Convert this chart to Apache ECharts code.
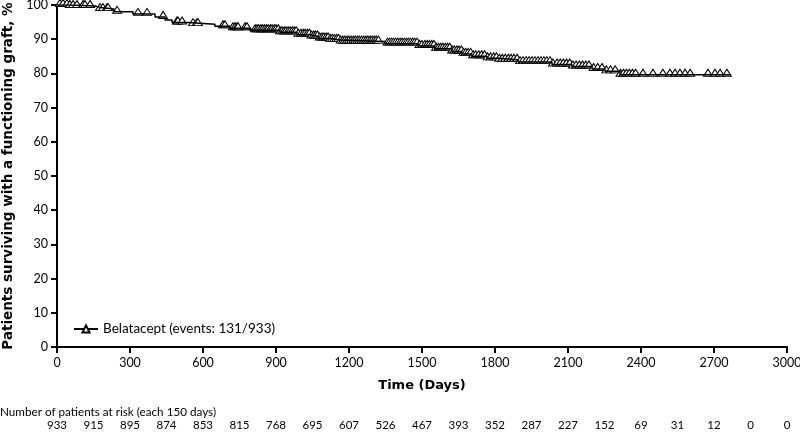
<!DOCTYPE html>
<html><head><meta charset="utf-8">
<script src="https://cdn.jsdelivr.net/npm/echarts@6/dist/echarts.min.js"></script>
<style>html,body{margin:0;padding:0;background:#fff}#c{width:800px;height:432px}</style>
</head><body><div id="c"></div>
<script>
// Kaplan-Meier step points: day at which survival changes, survival (%) from that day
const stepDays = [0, 53, 156, 177, 234, 312, 403, 444, 473, 538, 649, 711, 793, 916, 986, 1040, 1073, 1122, 1163, 1348, 1484, 1553, 1623, 1664, 1705, 1767, 1808, 1895, 2034, 2116, 2199, 2252, 2314, 2766];
const stepSurv = [100, 99.7, 99.3, 98.8, 98.0, 97.4, 96.5, 95.6, 94.9, 94.4, 93.8, 93.2, 92.6, 92.0, 91.3, 90.8, 90.2, 89.8, 89.3, 88.7, 88.0, 87.2, 86.4, 85.7, 85.0, 84.4, 84.0, 83.3, 82.6, 82.0, 81.3, 80.6, 79.6, 79.6];
// censored observation days (markers)
const censorDays = [12, 25, 41, 53, 66, 82, 107, 115, 136, 177, 189, 206, 210, 247, 333, 370, 436, 493, 497, 514, 559, 575, 579, 682, 690, 723, 732, 740, 744, 773, 781,
  814, 822, 829, 838, 845, 853, 861, 868, 877, 884, 893, 900, 909, 917, 925, 934, 941, 950, 958, 967, 975, 983, 992,
  1003, 1012, 1020, 1029, 1037, 1046, 1055, 1063, 1071, 1080, 1089, 1097, 1106, 1114, 1123, 1131, 1140, 1149, 1157, 1166, 1175, 1183, 1192, 1200, 1209, 1218, 1226, 1235, 1243, 1252, 1261, 1270, 1278, 1287, 1295, 1304, 1312, 1321, 1358, 1366, 1375, 1383, 1392, 1401, 1410, 1418, 1427, 1436, 1444, 1453, 1462, 1470, 1480, 1490, 1500,
  1512, 1521, 1530, 1540, 1549, 1558, 1568, 1577, 1586, 1596, 1605, 1614, 1624, 1633, 1643, 1652, 1662, 1671, 1680, 1690, 1700, 1710, 1720, 1733, 1745, 1757, 1770, 1782, 1795, 1806, 1818, 1830, 1842, 1855, 1866, 1878, 1891, 1903, 1915, 1928, 1940, 1952, 1964, 1977, 1989, 2001, 2013, 2026, 2038,
  2055, 2068, 2081, 2094, 2107, 2120, 2133, 2147, 2160, 2173, 2186, 2205, 2222, 2240, 2258, 2275, 2294, 2316, 2328, 2340, 2352, 2365, 2378, 2408, 2449, 2490, 2519, 2540, 2560, 2581, 2602, 2675, 2704, 2725, 2753];
// number at risk every 150 days
const riskDays = [0, 150, 300, 450, 600, 750, 900, 1050, 1200, 1350, 1500, 1650, 1800, 1950, 2100, 2250, 2400, 2550, 2700, 2850, 3000];
const riskCounts = [933, 915, 895, 874, 853, 815, 768, 695, 607, 526, 467, 393, 352, 287, 227, 152, 69, 31, 12, 0, 0];
const xTicks = [0, 300, 600, 900, 1200, 1500, 1800, 2100, 2400, 2700, 3000];
const yTicks = [0, 10, 20, 30, 40, 50, 60, 70, 80, 90, 100];

const FONT = 'Lato';
const BOLD = 'DejaVu Sans';
function survAt(d) {
  let s = stepSurv[0];
  for (let i = 0; i < stepDays.length; i++) { if (stepDays[i] <= d) s = stepSurv[i]; }
  return s;
}
const lineData = stepDays.map((d, i) => [d, stepSurv[i]]);
const censorData = censorDays.map(d => [d, survAt(d)]);
const riskMap = {};
riskDays.forEach((d, i) => riskMap[d] = riskCounts[i]);

const chart = echarts.init(document.getElementById('c'), null, {renderer: 'canvas'});
chart.setOption({
  animation: false,
  textStyle: {fontFamily: FONT},
  grid: {left: 57, right: 13, top: 5, bottom: 85, containLabel: false, outerBoundsMode: 'none'},
  legend: {
    left: 68, top: 317, itemWidth: 24, itemHeight: 9, itemGap: 6,
    textStyle: {fontFamily: FONT, fontSize: 13.5, color: '#000'},
    data: ['Belatacept (events: 131/933)']
  },
  xAxis: [{
    type: 'value', min: 0, max: 3000, interval: 300,
    name: 'Time (Days)', nameLocation: 'middle', nameGap: 32,
    nameTextStyle: {fontFamily: BOLD, fontSize: 13, fontWeight: 'bold', color: '#000'},
    axisLine: {lineStyle: {color: '#000', width: 2}},
    axisTick: {show: true, length: 6, lineStyle: {color: '#000', width: 2}},
    axisLabel: {fontFamily: FONT, fontSize: 12.5, color: '#000', margin: 9,
      formatter: v => xTicks.indexOf(v) >= 0 ? String(v) : ''},
    splitLine: {show: false}
  }, {
    type: 'value', min: 0, max: 3000, interval: 150, position: 'bottom', offset: 72,
    axisLine: {show: false}, axisTick: {show: false}, splitLine: {show: false},
    axisLabel: {fontFamily: FONT, fontSize: 11.5, color: '#000', margin: 0,
      formatter: v => (riskMap[v] !== undefined ? String(riskMap[v]) : '')}
  }],
  yAxis: {
    type: 'value', min: 0, max: 100, interval: 10,
    name: 'Patients surviving with a functioning graft, %', nameLocation: 'middle', nameGap: 36,
    nameTextStyle: {fontFamily: BOLD, fontSize: 13.5, fontWeight: 'bold', color: '#000'},
    axisLine: {show: true, lineStyle: {color: '#000', width: 2}},
    axisTick: {show: true, length: 6, lineStyle: {color: '#000', width: 2}},
    axisLabel: {fontFamily: FONT, fontSize: 12.5, color: '#000', margin: 9,
      formatter: v => yTicks.indexOf(v) >= 0 ? String(v) : ''},
    splitLine: {show: false}
  },
  graphic: [{
    type: 'text', left: 0, top: 406,
    style: {text: 'Number of patients at risk (each 150 days)', font: '11.7px ' + FONT, fill: '#000'}
  }],
  series: [{
    name: 'Belatacept (events: 131/933)', type: 'line', step: 'end', data: lineData,
    showSymbol: false, symbol: 'triangle', symbolSize: [9, 7],
    lineStyle: {color: '#000', width: 1.5},
    itemStyle: {color: '#fff', borderColor: '#000', borderWidth: 1}
  }, {
    name: 'censored', type: 'scatter', data: censorData,
    symbol: 'triangle', symbolSize: [9, 7], symbolOffset: [0, -2],
    itemStyle: {color: '#fff', borderColor: '#000', borderWidth: 1, opacity: 1}
  }]
});
</script></body></html>
